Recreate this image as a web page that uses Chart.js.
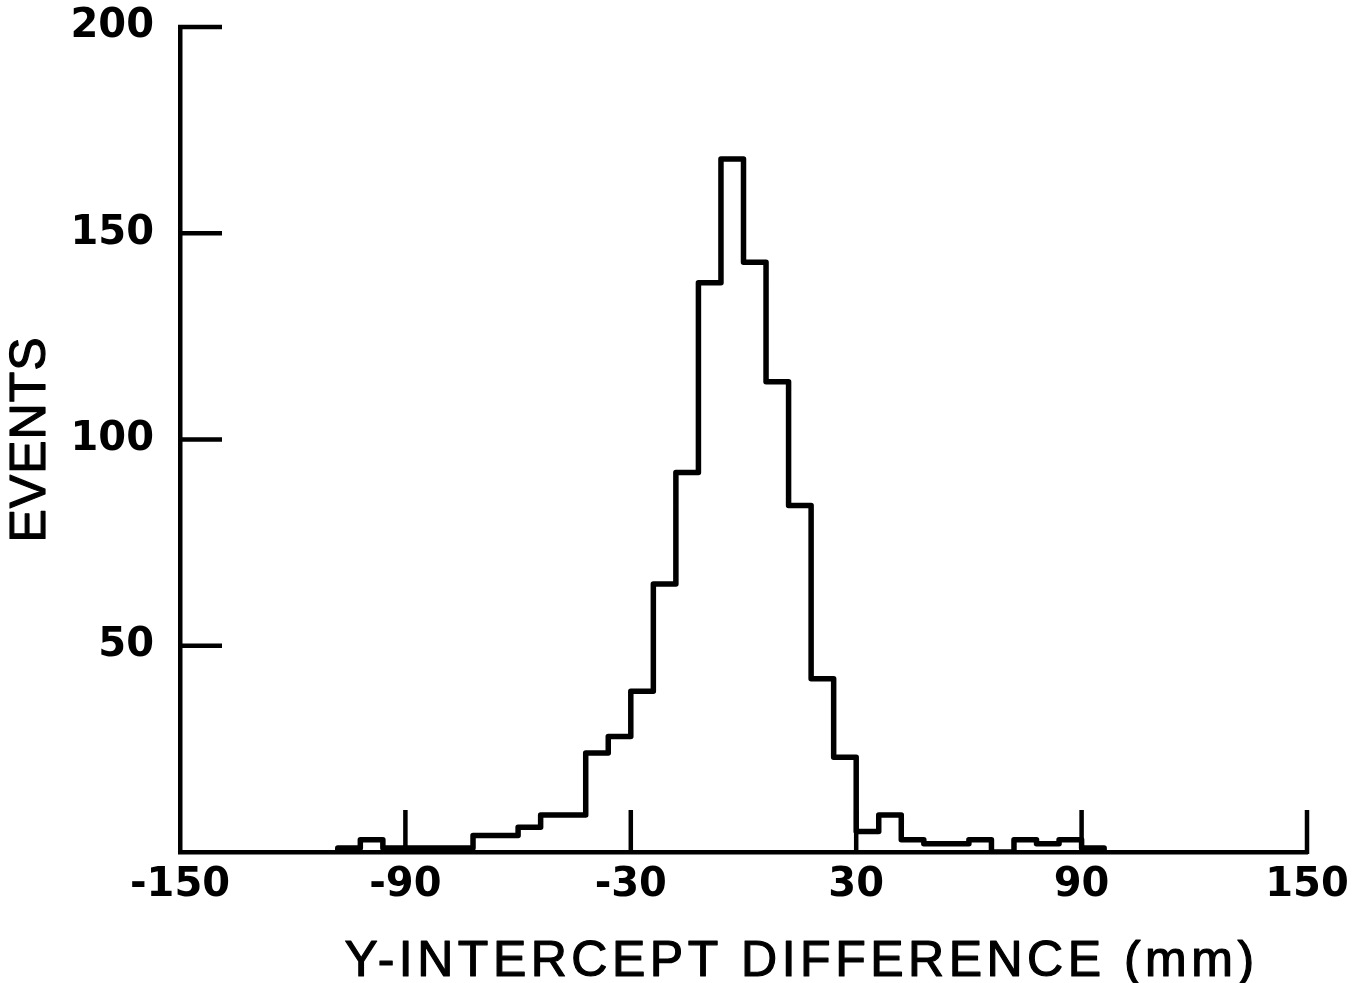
<!DOCTYPE html>
<html><head><meta charset="utf-8">
<script src="https://cdn.jsdelivr.net/npm/chart.js@4.4.1/dist/chart.umd.min.js"></script>
<style>html,body{margin:0;padding:0;background:#fff;}canvas{display:block}</style>
</head><body>
<canvas id="c" width="1370" height="983"></canvas>
<script>
// Histogram bins (mm): lower edges and counts
const binLow = [-108,-102,-96,-90,-84,-78,-72,-66,-60,-54,-48,-42,-36,-30,-24,-18,-12,-6,0,6,12,18,24,30,36,42,48,54,60,66,72,78,84,90];
const lastEdge = 96;
const counts = [1,3,1,1,1,1,4,4,6,9,9,24,28,39,65,92,138,168,143,114,84,42,23,5,9,3,2,2,3,0,3,2,3,1];
const xTicks = [-150,-90,-30,30,90,150];
const xTickLabels = ['-150','-90','-30','30','90','150'];
const yTicks = [50,100,150,200];
const yTickLabels = ['50','100','150','200'];
const xTitle = 'Y-INTERCEPT DIFFERENCE (mm)';
const yTitle = 'EVENTS';

// build step points: start at baseline, then each bin's left edge, end at baseline
const points = [{x: binLow[0], y: 0}];
binLow.forEach((lo, i) => points.push({x: lo, y: counts[i]}));
points.push({x: lastEdge, y: 0});

const decor = {
  id: 'decor',
  afterDatasetsDraw(chart) {
    const {ctx, scales: {x, y}} = chart;
    ctx.save();
    ctx.strokeStyle = '#000';
    ctx.lineWidth = 4.5;
    ctx.lineCap = 'butt';
    ctx.beginPath();
    yTicks.forEach(v => {
      const py = y.getPixelForValue(v);
      ctx.moveTo(x.left - 2, py);
      ctx.lineTo(x.left + 42, py);
    });
    xTicks.forEach(v => {
      if (v === x.min) return;
      const px = x.getPixelForValue(v);
      ctx.moveTo(px, y.bottom + 2);
      ctx.lineTo(px, y.bottom - 42);
    });
    ctx.stroke();

    ctx.fillStyle = '#000';
    ctx.lineWidth = 1.2;
    ctx.lineJoin = 'round';
    ctx.font = '50px "Liberation Sans"';
    // y title
    ctx.save();
    ctx.translate(31, (y.top + y.bottom) / 2);
    ctx.rotate(-Math.PI / 2);
    ctx.textAlign = 'center';
    ctx.textBaseline = 'middle';
    ctx.letterSpacing = '1px';
    ctx.fillText(yTitle, 0, 0);
    ctx.strokeText(yTitle, 0, 0);
    ctx.restore();
    // x title
    ctx.letterSpacing = '4.5px';
    ctx.textAlign = 'left';
    ctx.textBaseline = 'alphabetic';
    const w = ctx.measureText(xTitle).width;
    const cx = (x.left + x.right) / 2 + 58;
    ctx.fillText(xTitle, cx - w / 2, 976);
    ctx.strokeText(xTitle, cx - w / 2, 976);
    ctx.restore();
  }
};

new Chart(document.getElementById('c'), {
  type: 'line',
  data: {
    datasets: [{
      data: points,
      stepped: true,
      borderColor: '#000',
      borderWidth: 5.5,
      borderJoinStyle: 'round',
      borderCapStyle: 'round',
      pointRadius: 0,
      fill: false
    }]
  },
  options: {
    responsive: false,
    animation: false,
    devicePixelRatio: 1,
    layout: {padding: {top: 27, right: 63, left: 0, bottom: 0}},
    plugins: {legend: {display: false}, tooltip: {enabled: false}},
    scales: {
      x: {
        type: 'linear', min: -150, max: 150,
        afterBuildTicks: s => { s.ticks = xTicks.map(v => ({value: v})); },
        afterFit: s => { s.height = 131; s.paddingLeft = 0; s.paddingRight = 0; },
        grid: {display: false, drawTicks: false},
        border: {display: true, color: '#000', width: 4.5},
        ticks: {
          padding: 10, color: '#000', maxRotation: 0, autoSkip: false,
          font: {family: 'DejaVu Sans', weight: 'bold', size: 40},
          callback: v => xTickLabels[xTicks.indexOf(v)]
        }
      },
      y: {
        type: 'linear', min: 0, max: 200,
        afterBuildTicks: s => { s.ticks = yTicks.map(v => ({value: v})); },
        afterFit: s => { s.width = 180; s.paddingTop = 0; s.paddingBottom = 0; },
        grid: {display: false, drawTicks: false},
        border: {display: true, color: '#000', width: 4.5},
        ticks: {
          padding: 26, color: '#000', autoSkip: false,
          font: {family: 'DejaVu Sans', weight: 'bold', size: 40},
          callback: v => yTickLabels[yTicks.indexOf(v)]
        }
      }
    }
  },
  plugins: [decor]
});
</script>
</body></html>
